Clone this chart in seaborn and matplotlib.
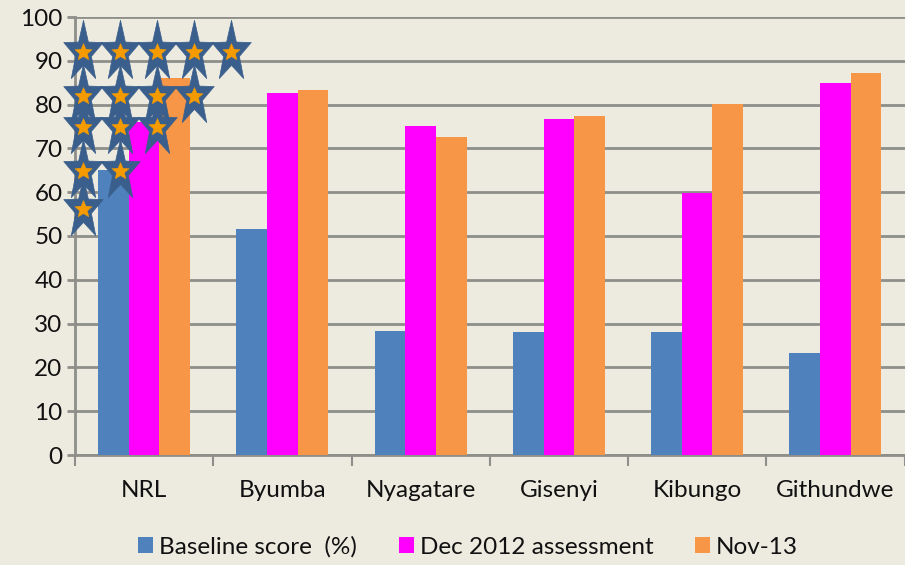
import numpy as np
import pandas as pd
import matplotlib
matplotlib.use("Agg")
import matplotlib.pyplot as plt
from matplotlib.path import Path
import seaborn as sns

sites = ["NRL", "Byumba", "Nyagatare", "Gisenyi", "Kibungo", "Githundwe"]
baseline = [65, 51.7, 28.4, 28, 28, 23.3]
dec2012 = [76, 82.6, 75.2, 76.8, 59.8, 85]
nov13 = [86, 83.3, 72.5, 77.5, 80.2, 87.2]
series_names = ["Baseline score  (%)", "Dec 2012 assessment", "Nov-13"]
colors = ["#4F81BD", "#FF00FF", "#F79646"]

# star rating rows: number of stars and height on the value axis
star_counts = [5, 4, 3, 2, 1]
star_levels = [92, 82, 74.9, 64.8, 56.2]

BG = "#EDEBE0"
GRID = "#8E8E8A"

sns.set_theme(style="white")
plt.rcParams["font.family"] = ["Lato", "DejaVu Sans"]

df = pd.DataFrame({
    "site": sites * 3,
    "series": np.repeat(series_names, len(sites)),
    "value": baseline + dec2012 + nov13,
})

W, H = 905, 565
fig = plt.figure(figsize=(W / 100, H / 100), dpi=100, facecolor=BG)
ax = fig.add_axes([75 / W, 1 - 455 / H, 829.5 / W, 438 / H], facecolor=BG)

sns.barplot(data=df, x="site", y="value", hue="series", palette=colors,
            width=0.667, gap=0, saturation=1, ax=ax, zorder=3, legend=True,
            linewidth=0)

ax.set_xlim(-0.5, 5.5)
ax.set_ylim(0, 100)
ax.set_xlabel("")
ax.set_ylabel("")
ax.set_yticks(range(0, 101, 10))
ax.set_xticks(np.arange(-0.5, 6, 1))
ax.set_xticklabels([])
ax.set_xticks(range(6), sites, minor=True)
ax.tick_params(axis="x", which="major", length=8, width=1.5, color=GRID, bottom=True)
ax.tick_params(axis="x", which="minor", length=0, labelsize=17.5, pad=18, labelcolor="#111111")
ax.tick_params(axis="y", length=6, width=2, color=GRID, labelsize=17.5, pad=3, left=True, labelcolor="#111111")
ax.grid(axis="y", color=GRID, lw=2, zorder=1)
ax.set_axisbelow(True)
for s in ["top", "right"]:
    ax.spines[s].set_visible(False)
for s in ["left", "bottom"]:
    ax.spines[s].set_color(GRID)
    ax.spines[s].set_linewidth(2)

handles, labels = ax.get_legend_handles_labels()
leg = ax.legend(handles, labels, ncol=3, frameon=False, fontsize=17.5,
                loc="center", bbox_to_anchor=(468 / W, 1 - 547 / H),
                bbox_transform=fig.transFigure, handlelength=0.62, handleheight=0.62,
                handletextpad=0.25, columnspacing=1.7, labelcolor="#111111")


def star_path(stretch=1.55, inner=0.40):
    ang = np.pi / 2 + np.arange(10) * np.pi / 5
    rad = np.where(np.arange(10) % 2 == 0, 1.0, inner)
    pts = np.c_[rad * np.cos(ang), rad * np.sin(ang) * stretch]
    return Path(np.r_[pts, pts[:1]], closed=True)


star_x0, star_dx = -0.44, 0.268
outer = star_path()
inner = star_path(stretch=1.0, inner=0.46)
for n, lev in zip(star_counts, star_levels):
    xs = star_x0 + star_dx * np.arange(n)
    ys = np.full(n, lev)
    ax.plot(xs, ys, ls="none", marker=outer, ms=46.4, mfc="#3A5F8C", mec="#3A5F8C",
            mew=0.5, clip_on=False, zorder=5)
    ax.plot(xs, ys, ls="none", marker=inner, ms=13, mfc="#F59B00", mec="#F59B00",
            mew=0.3, clip_on=False, zorder=6)

fig.savefig("out.png", dpi=100, facecolor=BG)
